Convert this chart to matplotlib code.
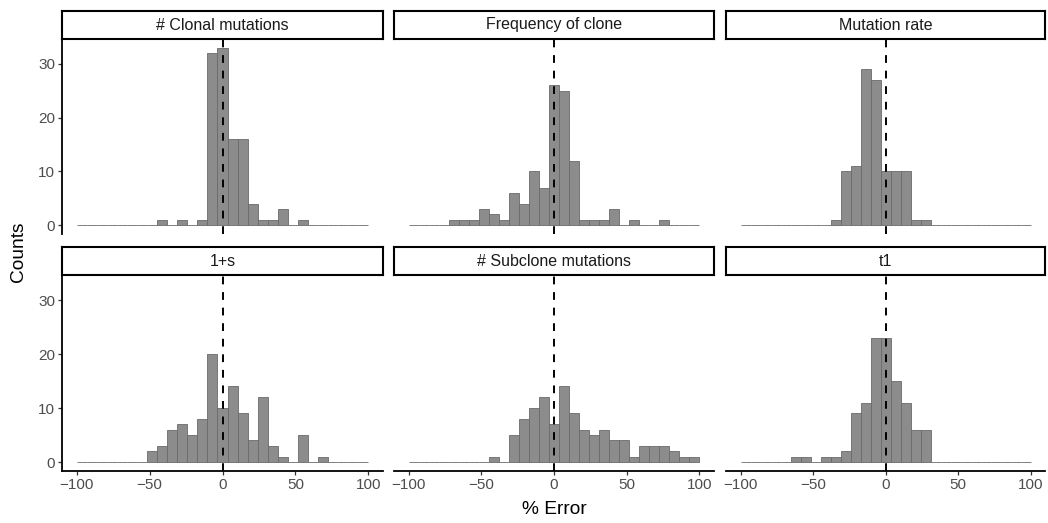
import numpy as np
import matplotlib.pyplot as plt

plt.rcParams['font.family'] = ['Liberation Sans', 'DejaVu Sans']

# 29 equal bins spanning -100..100 (% error)
bin_edges = np.linspace(-100, 100, 30)

panel_titles = ['# Clonal mutations', 'Frequency of clone', 'Mutation rate',
                '1+s', '# Subclone mutations', 't1']

# counts per bin, left to right
clonal_mut = [0, 0, 0, 0, 0, 0, 0, 0, 1, 0, 1, 0, 1, 32, 33, 16, 16, 4, 1, 1,
              3, 0, 1, 0, 0, 0, 0, 0, 0]
freq_clone = [0, 0, 0, 0, 1, 1, 1, 3, 2, 1, 6, 4, 10, 7, 26, 25, 12, 1, 1, 1,
              3, 0, 1, 0, 0, 1, 0, 0, 0]
mut_rate = [0, 0, 0, 0, 0, 0, 0, 0, 0, 1, 10, 11, 29, 27, 10, 10, 10, 1, 1, 0,
            0, 0, 0, 0, 0, 0, 0, 0, 0]
one_plus_s = [0, 0, 0, 0, 0, 0, 0, 2, 3, 6, 7, 5, 8, 20, 10, 14, 9, 4, 12, 3,
              1, 0, 5, 0, 1, 0, 0, 0, 0]
subclone_mut = [0, 0, 0, 0, 0, 0, 0, 0, 1, 0, 5, 8, 10, 12, 7, 14, 9, 6, 5, 6,
                4, 4, 1, 3, 3, 3, 2, 1, 1]
t1 = [0, 0, 0, 0, 0, 1, 1, 0, 1, 1, 2, 9, 11, 23, 23, 15, 11, 6, 6, 0,
      0, 0, 0, 0, 0, 0, 0, 0, 0]

all_counts = [clonal_mut, freq_clone, mut_rate, one_plus_s, subclone_mut, t1]

W, H = 1048, 523
fig = plt.figure(figsize=(W / 100, H / 100), dpi=100)

col_x = [(62, 383), (394, 714), (726, 1045)]
row_y = [(39, 234), (275, 471)]      # panel top/bottom in pixels
strip_h = 28

widths = np.diff(bin_edges)
lefts = bin_edges[:-1]

for i, (title, counts) in enumerate(zip(panel_titles, all_counts)):
    r, c = divmod(i, 3)
    x0, x1 = col_x[c]
    y0, y1 = row_y[r]
    ax = fig.add_axes([x0 / W, 1 - y1 / H, (x1 - x0) / W, (y1 - y0) / H])
    ax.bar(lefts, counts, width=widths, align='edge', color='#8c8c8c',
           edgecolor='#6a6a6a', linewidth=0.6)
    ax.axvline(0, color='black', linestyle=(0, (4, 4)), linewidth=1.4)
    ax.set_xlim(-110, 110)
    ax.set_ylim(-1.65, 34.65)
    ax.set_xticks([-100, -50, 0, 50, 100])
    ax.set_yticks([0, 10, 20, 30])
    ax.tick_params(colors='#333333', labelcolor='#4d4d4d', labelsize=11,
                   length=3, width=0.9, pad=2)
    for side in ['top', 'right']:
        ax.spines[side].set_visible(False)
    ax.spines['left'].set_visible(c == 0)
    ax.spines['bottom'].set_visible(r == 1)
    ax.spines['left'].set_linewidth(1.3)
    ax.spines['bottom'].set_linewidth(1.3)
    if c != 0:
        ax.tick_params(axis='y', left=False, labelleft=False)
    if r != 1:
        ax.tick_params(axis='x', bottom=False, labelbottom=False)

    # facet strip
    sax = fig.add_axes([x0 / W, 1 - y0 / H, (x1 - x0) / W, strip_h / H])
    sax.set_xticks([])
    sax.set_yticks([])
    for sp in sax.spines.values():
        sp.set_linewidth(1.5)
        sp.set_color('black')
    sax.text(0.5, 0.5, title, ha='center', va='center', fontsize=11.5,
             color='#1a1a1a', transform=sax.transAxes)

fig.text(18 / W, 1 - 252 / H, 'Counts', rotation=90, ha='center', va='center',
         fontsize=13.8)
fig.text(554 / W, 1 - 510 / H, '% Error', ha='center', va='center',
         fontsize=13.8)

fig.savefig('out.png', dpi=100)
